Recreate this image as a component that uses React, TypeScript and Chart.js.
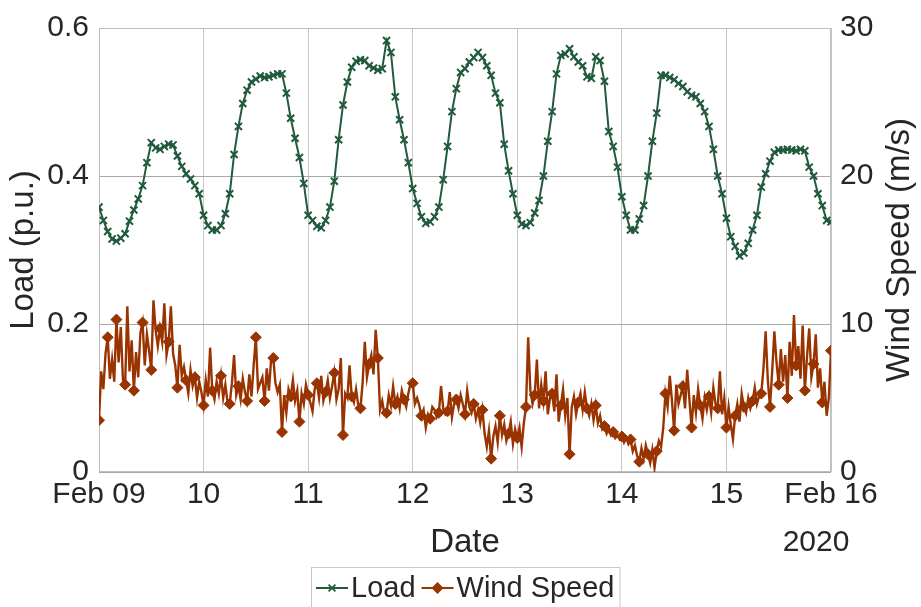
import React, { useEffect, useRef } from "react";
import { Chart, registerables } from "chart.js";

Chart.register(...registerables);

// ---------- data ----------
const dayTickLabels = ["Feb 09", "10", "11", "12", "13", "14", "15", "Feb 16"];
const yearLabel = "2020";
const xTitle = "Date";
const leftTitle = "Load (p.u.)";
const rightTitle = "Wind Speed (m/s)";
const seriesNames = ["Load", "Wind Speed"];

// hourly load (p.u.)
const loadFeb09 = [0.358, 0.340, 0.325, 0.315, 0.312, 0.316, 0.322, 0.339, 0.354, 0.369, 0.387, 0.418, 0.445, 0.438, 0.436, 0.440, 0.443, 0.442, 0.427, 0.413, 0.403, 0.396, 0.387, 0.376];
const loadFeb10 = [0.347, 0.333, 0.327, 0.327, 0.333, 0.349, 0.376, 0.429, 0.467, 0.498, 0.516, 0.527, 0.531, 0.535, 0.533, 0.534, 0.536, 0.538, 0.538, 0.512, 0.478, 0.451, 0.425, 0.390];
const loadFeb11 = [0.347, 0.340, 0.332, 0.330, 0.340, 0.358, 0.393, 0.449, 0.496, 0.527, 0.547, 0.555, 0.557, 0.556, 0.549, 0.546, 0.543, 0.545, 0.583, 0.567, 0.507, 0.476, 0.449, 0.418];
const loadFeb12 = [0.383, 0.363, 0.345, 0.336, 0.338, 0.345, 0.358, 0.395, 0.440, 0.487, 0.518, 0.540, 0.545, 0.554, 0.560, 0.567, 0.560, 0.549, 0.536, 0.512, 0.499, 0.443, 0.407, 0.376];
const loadFeb13 = [0.347, 0.335, 0.333, 0.337, 0.350, 0.367, 0.400, 0.447, 0.487, 0.538, 0.563, 0.565, 0.572, 0.561, 0.554, 0.549, 0.534, 0.532, 0.561, 0.556, 0.528, 0.460, 0.440, 0.412];
const loadFeb14 = [0.372, 0.347, 0.327, 0.327, 0.342, 0.360, 0.400, 0.447, 0.485, 0.536, 0.536, 0.533, 0.530, 0.525, 0.521, 0.514, 0.509, 0.507, 0.498, 0.487, 0.467, 0.436, 0.400, 0.376];
const loadFeb15 = [0.343, 0.318, 0.305, 0.292, 0.296, 0.309, 0.327, 0.347, 0.385, 0.403, 0.420, 0.432, 0.435, 0.435, 0.436, 0.435, 0.434, 0.436, 0.434, 0.412, 0.400, 0.376, 0.360, 0.340, 0.338];

// half-hourly wind speed (m/s)
const windFeb09 = [3.5, 6.8, 5.6, 8.0, 9.1, 6.3, 7.6, 6.1, 10.3, 7.4, 9.8, 6.2, 5.9, 11.2, 6.8, 8.9, 5.5, 8.1, 6.4, 9.4, 10.1, 7.2, 9.3, 8.2, 6.9, 11.6, 9.6, 8.5, 9.7, 8.8, 11.4, 7.9, 8.8, 11.2, 8.0, 7.2, 5.7, 8.6, 6.5, 7.1, 6.2, 5.3, 6.9, 5.8, 6.4, 5.0, 6.1, 5.4];
const windFeb10 = [4.5, 6.2, 5.1, 8.4, 5.5, 4.9, 6.1, 5.3, 6.5, 5.0, 5.9, 4.7, 4.6, 6.0, 7.9, 5.2, 5.8, 4.9, 6.3, 5.4, 4.8, 6.6, 5.1, 7.2, 9.1, 5.6, 6.0, 6.4, 4.8, 7.0, 5.5, 7.6, 7.7, 6.0, 5.4, 5.9, 2.7, 5.2, 4.0, 5.6, 5.1, 6.2, 4.8, 5.5, 3.4, 5.3, 4.6, 5.9];
const windFeb11 = [5.2, 4.7, 4.1, 5.6, 6.0, 5.0, 6.5, 4.8, 5.4, 6.2, 5.0, 5.8, 6.7, 4.9, 5.6, 7.7, 2.5, 5.3, 5.0, 7.2, 5.1, 4.7, 5.6, 4.5, 4.3, 6.0, 8.8, 6.4, 7.3, 7.9, 6.6, 9.6, 7.7, 4.2, 4.8, 3.9, 4.0, 5.2, 4.5, 5.8, 4.6, 5.1, 4.3, 5.5, 4.9, 4.4, 5.3, 6.0];
const windFeb12 = [6.0, 4.6, 5.0, 4.5, 3.8, 4.2, 3.0, 3.9, 3.6, 4.4, 4.2, 3.7, 4.0, 5.8, 4.3, 3.9, 4.1, 5.4, 3.7, 4.6, 4.9, 4.3, 5.2, 4.6, 3.9, 5.5, 4.4, 4.0, 4.6, 3.6, 4.2, 3.3, 4.2, 2.6, 1.7, 2.8, 0.9, 2.4, 3.1, 2.0, 3.8, 2.5, 3.2, 2.1, 2.6, 3.4, 1.9, 2.9];
const windFeb13 = [2.3, 3.0, 1.7, 3.3, 4.4, 9.1, 5.5, 4.6, 5.2, 7.6, 4.3, 5.9, 4.8, 6.8, 3.9, 5.0, 5.3, 4.1, 6.6, 3.4, 4.5, 5.6, 3.8, 5.0, 1.2, 4.4, 5.1, 3.9, 4.7, 5.3, 4.2, 5.4, 4.3, 3.8, 4.6, 3.5, 4.5, 3.3, 3.8, 2.9, 3.1, 2.6, 3.0, 2.5, 2.7, 2.3, 2.5, 2.2];
const windFeb14 = [2.4, 2.0, 2.3, 1.9, 2.2, 1.4, 1.8, 1.1, 0.7, 1.6, 0.9, 1.8, 1.2, 0.6, 1.5, 0.3, 1.4, 2.1, 1.7, 3.0, 5.3, 4.4, 6.5, 4.8, 2.8, 5.9, 4.6, 5.2, 5.8, 4.3, 6.9, 4.9, 3.0, 5.2, 4.0, 5.6, 4.5, 3.6, 5.0, 4.2, 5.1, 4.0, 5.7, 4.6, 4.3, 6.8, 3.9, 5.0];
const windFeb15 = [3.0, 4.4, 3.2, 2.2, 3.8, 4.6, 3.4, 5.3, 4.4, 4.0, 5.0, 4.3, 4.8, 5.7, 4.6, 5.1, 5.3, 7.0, 9.5, 6.2, 4.4, 6.8, 9.5, 7.4, 5.9, 8.3, 6.1, 7.9, 5.0, 8.8, 6.5, 10.6, 7.2, 8.5, 6.3, 9.9, 5.5, 7.8, 9.7, 6.4, 7.3, 9.3, 5.7, 7.0, 4.7, 6.1, 3.8, 5.0, 8.2];

const loadValues = [...loadFeb09, ...loadFeb10, ...loadFeb11, ...loadFeb12, ...loadFeb13, ...loadFeb14, ...loadFeb15];
const windValues = [...windFeb09, ...windFeb10, ...windFeb11, ...windFeb12, ...windFeb13, ...windFeb14, ...windFeb15];

// ---------- style ----------
const FONT = '"Liberation Sans", Arial, Helvetica, sans-serif';
const TEXT = "#262626";
const GREEN = "#215a3c";
const BROWN = "#993300";

function drawCross(ctx: CanvasRenderingContext2D, x: number, y: number, r: number) {
  ctx.beginPath();
  ctx.moveTo(x - r, y - r);
  ctx.lineTo(x + r, y + r);
  ctx.moveTo(x - r, y + r);
  ctx.lineTo(x + r, y - r);
  ctx.stroke();
}

function drawDiamond(ctx: CanvasRenderingContext2D, x: number, y: number, r: number) {
  ctx.beginPath();
  ctx.moveTo(x, y - r);
  ctx.lineTo(x + r, y);
  ctx.lineTo(x, y + r);
  ctx.lineTo(x - r, y);
  ctx.closePath();
  ctx.fill();
}

const decorPlugin = {
  id: "decor",
  beforeDatasetsDraw(chart: any) {
    const { ctx, chartArea: a } = chart;
    ctx.save();
    ctx.strokeStyle = "#bdbdbd";
    ctx.lineWidth = 1;
    ctx.strokeRect(a.left + 0.5, a.top + 0.5, a.right - a.left - 1, a.bottom - a.top - 1);
    ctx.restore();
  },
  afterDraw(chart: any) {
    const { ctx, chartArea: a } = chart;
    ctx.save();
    ctx.fillStyle = TEXT;
    ctx.font = `30px ${FONT}`;
    ctx.textAlign = "center";
    ctx.textBaseline = "middle";
    ctx.fillText(yearLabel, a.right - 15, 543);

    ctx.save();
    ctx.translate(900, (a.top + a.bottom) / 2);
    ctx.rotate(-Math.PI / 2);
    ctx.font = `33px ${FONT}`;
    ctx.fillText(rightTitle, 0, 0);
    ctx.restore();

    // legend
    ctx.font = `29px ${FONT}`;
    const w1 = ctx.measureText(seriesNames[0]).width;
    const w2 = ctx.measureText(seriesNames[1]).width;
    const sample = 32, gapS = 3, gapItem = 6, padX = 5;
    const total = padX + sample + gapS + w1 + gapItem + sample + gapS + w2 + padX;
    const cx = (a.left + a.right) / 2;
    const x0 = Math.round(cx - total / 2);
    const top = 567;
    const ly = 588;
    ctx.fillStyle = "#ffffff";
    ctx.fillRect(x0, top, total, 60);
    ctx.strokeStyle = "#c8c8c8";
    ctx.lineWidth = 1;
    ctx.strokeRect(x0 + 0.5, top + 0.5, total, 60);

    let x = x0 + padX;
    ctx.strokeStyle = GREEN;
    ctx.lineWidth = 2;
    ctx.beginPath();
    ctx.moveTo(x, ly);
    ctx.lineTo(x + sample, ly);
    ctx.stroke();
    ctx.lineWidth = 1.8;
    drawCross(ctx, x + sample / 2, ly, 3.4);
    x += sample + gapS;
    ctx.fillStyle = TEXT;
    ctx.textAlign = "left";
    ctx.fillText(seriesNames[0], x, ly + 1);
    x += w1 + gapItem;

    ctx.strokeStyle = BROWN;
    ctx.fillStyle = BROWN;
    ctx.lineWidth = 2.2;
    ctx.beginPath();
    ctx.moveTo(x, ly);
    ctx.lineTo(x + sample, ly);
    ctx.stroke();
    drawDiamond(ctx, x + sample / 2, ly, 6);
    x += sample + gapS;
    ctx.fillStyle = TEXT;
    ctx.fillText(seriesNames[1], x, ly + 1);
    ctx.restore();
  },
};

export default function App() {
  const ref = useRef<HTMLCanvasElement>(null);

  useEffect(() => {
    if (!ref.current) return;
    Chart.defaults.font.family = FONT;
    const loadPoints = loadValues.map((v, i) => ({ x: i, y: v }));
    const windPoints = windValues.map((v, i) => ({ x: i / 2, y: v }));

    const chart = new Chart(ref.current, {
      type: "line",
      data: {
        datasets: [
          {
            label: seriesNames[1],
            data: windPoints,
            yAxisID: "y1",
            borderColor: BROWN,
            backgroundColor: BROWN,
            borderWidth: 2.4,
            tension: 0,
            pointStyle: "rectRot",
            pointRadius: (c: any) => (c.dataIndex % 4 === 0 ? 5.5 : 0),
            pointBackgroundColor: BROWN,
            pointBorderColor: BROWN,
            pointBorderWidth: 1,
          },
          {
            label: seriesNames[0],
            data: loadPoints,
            yAxisID: "y",
            borderColor: GREEN,
            backgroundColor: GREEN,
            borderWidth: 2,
            tension: 0,
            pointStyle: "crossRot",
            pointRadius: 5,
            pointBorderColor: GREEN,
            pointBackgroundColor: GREEN,
            pointBorderWidth: 2,
          },
        ],
      },
      options: {
        responsive: false,
        animation: false,
        devicePixelRatio: 1,
        events: [],
        layout: { padding: { top: 22, left: 0, right: 0, bottom: 0 } },
        plugins: { legend: { display: false }, tooltip: { enabled: false } },
        scales: {
          x: {
            type: "linear",
            position: "bottom",
            min: 0,
            max: 168,
            ticks: {
              stepSize: 24,
              autoSkip: false,
              maxRotation: 0,
              padding: 5,
              color: TEXT,
              font: { size: 30 },
              callback: (v: any) => dayTickLabels[Math.round(Number(v) / 24)] ?? "",
            },
            grid: { color: "#c6c6c6", lineWidth: 1, drawTicks: false },
            border: { display: false },
            title: {
              display: true,
              text: xTitle,
              color: TEXT,
              font: { size: 33 },
              padding: { top: 0, bottom: 44 },
            },
            afterFit: (s: any) => {
              s.height = 135;
            },
          },
          y: {
            type: "linear",
            position: "left",
            min: 0,
            max: 0.6,
            ticks: {
              stepSize: 0.2,
              padding: 10,
              color: TEXT,
              font: { size: 30 },
              callback: (v: any) => (Number(v) === 0 ? "0" : Number(v).toFixed(1)),
            },
            grid: { color: "#a8a8a8", lineWidth: 1, drawTicks: false },
            border: { display: false },
            title: {
              display: true,
              text: leftTitle,
              color: TEXT,
              font: { size: 33 },
              padding: { top: 4, bottom: 0 },
            },
            afterFit: (s: any) => {
              s.width = 99;
            },
          },
          y1: {
            type: "linear",
            position: "right",
            min: 0,
            max: 30,
            ticks: {
              stepSize: 10,
              padding: 9,
              color: TEXT,
              font: { size: 30 },
            },
            grid: { display: false, drawTicks: false },
            border: { display: false },
            afterFit: (s: any) => {
              s.width = 90;
            },
          },
        },
      },
      plugins: [decorPlugin],
    } as any);

    return () => chart.destroy();
  }, []);

  return (
    <div style={{ position: "fixed", left: 0, top: 0, width: 921, height: 607, background: "#ffffff" }}>
      <canvas ref={ref} width={921} height={607} style={{ width: 921, height: 607, display: "block" }} />
    </div>
  );
}
